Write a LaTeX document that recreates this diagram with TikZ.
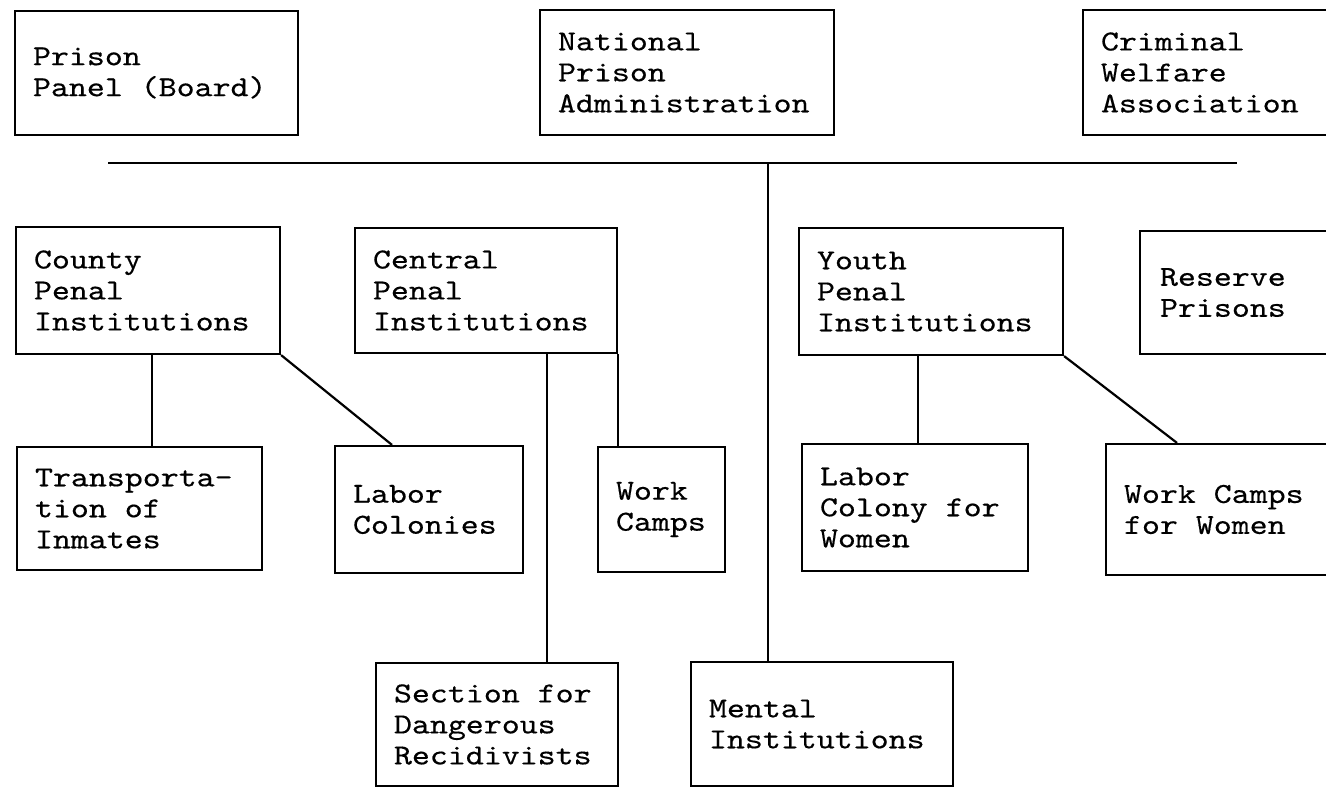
\documentclass[tikz,border=0pt]{standalone}
\usepackage{fontspec}
\usepackage{tikz}
\newfontfamily\typewriter{lmmono10-regular.otf}[FakeStretch=1.18, FakeBold=0.4]
\usetikzlibrary{positioning}
\tikzset{unit/.style = {draw, line width=1.1pt, align=left,
                        inner xsep=9pt, inner ysep=0pt,
                        font=\typewriter\fontsize{14.5}{15.5}\selectfont,
                        execute at begin node={\spaceskip=8.98pt\relax}},
         link/.style = {line width=1.1pt}}

\begin{document}
\begin{tikzpicture}[x=0.5pt, y=-0.5pt]
      \useasboundingbox (0, 0) rectangle (1326, 788);

      \node [unit, text width=123.5pt, minimum height=62pt] (panel) at (156.5, 73) {Prison\\Panel (Board)};
      \node [unit, text width=129pt, minimum height=62.5pt] (npa) at (687, 72.5) {National\\Prison\\Administration};
      \node [unit, text width=110.5pt, minimum height=62.5pt] (cwa) at (1211.5, 72.5) {Criminal\\Welfare\\Association};

      \node [unit, text width=114pt, minimum height=63.5pt] (county) at (148, 290.5) {County\\Penal\\Institutions};
      \node [unit, text width=113pt, minimum height=62.5pt] (central) at (486, 290.5) {Central\\Penal\\Institutions};
      \node [unit, text width=114pt, minimum height=63.5pt] (youth) at (931, 291.5) {Youth\\Penal\\Institutions};
      \node [unit, inner xsep=10pt, text width=80pt, minimum height=61.5pt] (reserve) at (1240, 292.5) {Reserve\\Prisons};

      \node [unit, text width=104.5pt, minimum height=61.5pt] (transport) at (139.5, 508.5) {Transporta-\\tion of\\Inmates};
      \node [unit, text width=76pt, minimum height=63.5pt] (laborcol) at (429, 509.5) {Labor\\Colonies};
      \node [unit, text width=45.5pt, minimum height=62.5pt] (workcamps) at (661.5, 509.5) {Work\\Camps};
      \node [unit, text width=95pt, minimum height=63.5pt] (lcw) at (915, 507.5) {Labor\\Colony for\\Women};
      \node [unit, text width=99pt, minimum height=65.5pt] (wcw) at (1223, 509.5) {Work Camps\\for Women};

      \node [unit, text width=103pt, minimum height=61.5pt] (section) at (497, 724.5) {Section for\\Dangerous\\Recidivists};
      \node [unit, text width=113pt, minimum height=62pt] (mental) at (822, 724) {Mental\\Institutions};

      \coordinate (hl) at (108, 163);
      \coordinate (hr) at (1237, 163);
      \coordinate (hub) at (768, 163);
      \draw [link] (hl) -- (hr);
      \draw [link] (hub) -- (hub |- mental.north);

      \draw [link] (152, 0 |- county.south) -- (152, 0 |- transport.north);
      \draw [link] (county.south east) -- (392, 0 |- laborcol.north);
      \draw [link] (547, 0 |- central.south) -- (547, 0 |- section.north);
      \draw [link] (central.south east) -- (central.south east |- workcamps.north);
      \draw [link] (918, 0 |- youth.south) -- (918, 0 |- lcw.north);
      \draw [link] (youth.south east) -- (1177, 0 |- wcw.north);
    \end{tikzpicture}
\end{document}
